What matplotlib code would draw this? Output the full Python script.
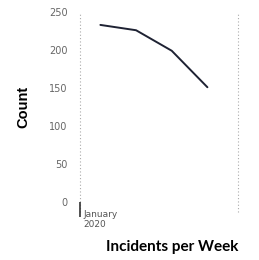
import matplotlib
matplotlib.use("Agg")
import matplotlib.pyplot as plt
import matplotlib.transforms as mtransforms
import datetime as dt

dates = ["2020-01-05", "2020-01-12", "2020-01-19", "2020-01-26"]
counts = [233, 226, 199, 151]
y_ticks = [0, 50, 100, 150, 200, 250]
x_tick_labels = ["January\n2020"]

x = [dt.datetime.strptime(d, "%Y-%m-%d") for d in dates]

fig = plt.figure(figsize=(2.59, 2.60), dpi=100)
ax = fig.add_axes([80/259, 1-202/260, (238-80)/259, (202-12)/260])

ax.plot(x, counts, color="#1e2233", lw=1.4, solid_joinstyle="round", solid_capstyle="round")
ax.set_xlim(dt.datetime(2020, 1, 1), dt.datetime(2020, 2, 1))
ax.set_ylim(0, 250)

ax.set_yticks(y_ticks)
ax.tick_params(axis="y", length=0, pad=9, labelsize=7, labelcolor="#666666")
ax.set_xticks([dt.datetime(2020, 1, 1)])
ax.set_xticklabels(x_tick_labels, ha="left", fontsize=6.5, color="#555555", linespacing=1.1)
ax.tick_params(axis="x", length=11, width=1.2, color="#333333", pad=-5, direction="out")
for lbl in ax.get_xticklabels():
    lbl.set_transform(lbl.get_transform() + mtransforms.ScaledTranslation(3/100, 0, fig.dpi_scale_trans))

for xv in [dt.datetime(2020, 1, 1), dt.datetime(2020, 2, 1)]:
    ax.plot([xv, xv], [-0.05, 1.0], transform=ax.get_xaxis_transform(),
            color="#aaaaaa", lw=0.8, ls=(0, (1, 2)), zorder=0, clip_on=False)

for s in ax.spines.values():
    s.set_visible(False)

ax.set_ylabel("Count", fontsize=10.5, fontweight="bold", family="Liberation Sans", labelpad=13)
ax.set_xlabel("Incidents per Week", fontsize=11, fontweight="bold", family="Lato", loc="right", labelpad=8)

fig.savefig("out.png", dpi=100)
